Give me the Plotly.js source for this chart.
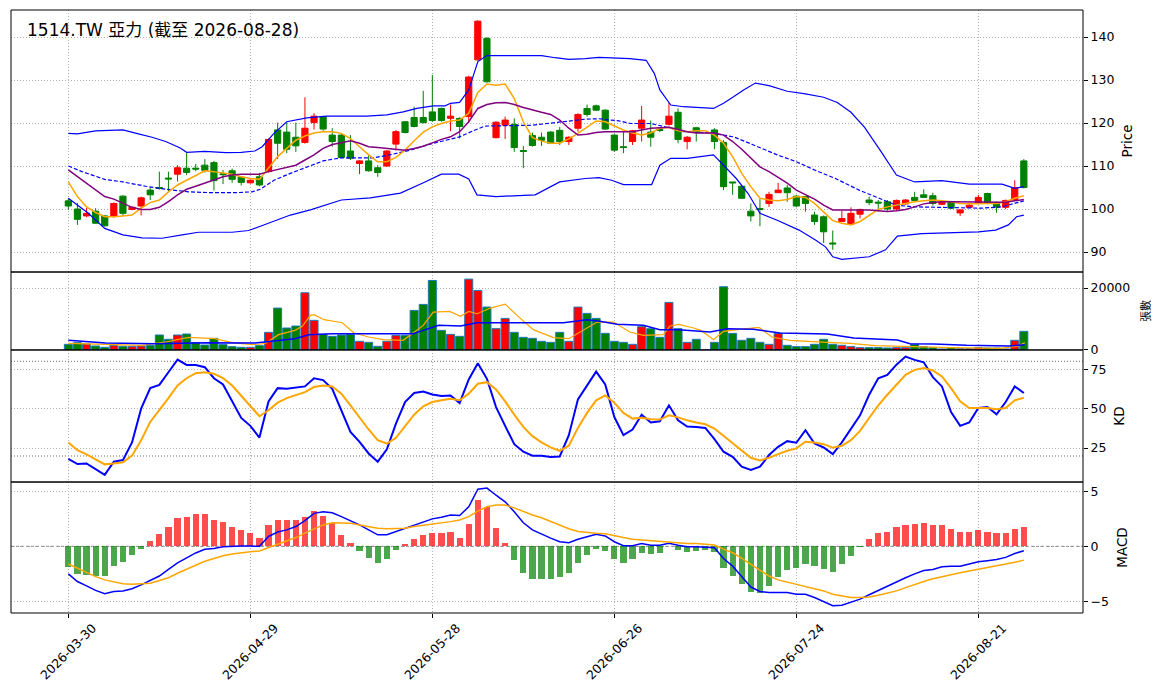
<!DOCTYPE html>
<html>
<head>
<meta charset="utf-8">
<script src="https://cdn.plot.ly/plotly-3.0.1.min.js"></script>
<style>
  html, body { margin: 0; padding: 0; background: #fff; }
  #chart { width: 1164px; height: 698px; }
</style>
</head>
<body>
<div id="chart"></div>
<script>
/***** data (index = trading day) *****/
var tickIdx = [0, 20, 40, 60, 80, 100];
var tickDates = ['2026-03-30', '2026-04-29', '2026-05-28', '2026-06-26', '2026-07-24', '2026-08-21'];

var open = [101.9,100.0,98.4,99.5,98.4,98.4,103.0,99.9,100.7,104.4,
  105.0,107.2,108.1,109.5,109.5,110.2,110.8,108.2,108.9,107.4,
  106.1,107.5,108.7,118.4,117.9,116.7,115.5,120.1,121.5,117.2,
  117.2,113.5,110.6,111.2,109.6,110.0,115.1,120.3,121.3,121.3,
  122.6,123.4,121.1,121.1,121.5,134.7,139.7,116.6,119.5,119.7,
  113.6,117.1,116.7,117.9,118.3,115.7,118.8,123.4,124.0,123.0,
  117.2,114.5,115.7,118.8,117.9,118.5,119.7,122.5,115.7,118.9,
  null,118.4,115.5,106.3,105.3,99.5,100.1,101.3,103.8,104.9,
  103.0,102.9,98.6,98.2,92.1,97.1,96.5,98.8,102.1,101.6,
  101.7,100.0,101.2,102.7,103.3,103.1,101.1,101.7,99.1,100.4,
  101.3,103.6,101.5,100.4,102.1,111.2];
var high = [102.5,101.4,100.3,100.2,98.6,101.5,103.2,100.6,102.9,105.0,
  108.7,108.7,110.2,113.0,110.5,111.6,111.2,109.1,109.4,107.6,
  106.9,108.4,116.4,120.1,120.1,120.1,126.0,122.3,121.7,118.8,
  117.4,117.2,111.4,112.6,110.2,113.7,118.4,120.5,123.8,127.5,
  131.2,123.6,124.3,121.3,131.0,143.9,140.0,120.4,121.5,121.1,
  114.7,117.8,117.8,118.1,119.1,116.9,122.3,124.3,124.3,123.2,
  117.4,118.1,118.4,124.0,120.6,118.8,124.8,123.4,117.0,119.1,
  null,118.8,116.0,106.3,105.5,101.3,102.3,104.0,106.1,105.6,
  103.3,103.0,99.4,98.5,95.0,99.6,100.4,100.1,102.9,102.1,
  102.1,102.2,102.3,104.0,104.6,103.8,101.9,101.9,100.0,101.1,
  103.3,103.8,101.7,102.2,106.7,111.6];
var low = [99.8,96.3,98.1,96.5,95.9,98.0,98.4,99.7,98.5,102.1,
  104.5,104.2,106.4,107.9,108.8,108.5,104.3,105.8,106.1,105.5,
  105.9,105.3,108.5,111.6,113.0,113.3,115.2,118.5,118.2,114.5,
  111.8,111.4,108.1,108.7,107.5,109.8,113.6,117.6,119.0,119.9,
  120.3,120.3,118.1,116.4,120.0,134.5,129.4,116.4,116.3,113.3,
  109.5,114.5,114.7,115.1,114.9,114.9,118.0,121.5,122.8,118.4,
  113.3,113.0,114.9,115.7,114.5,117.9,119.4,115.3,113.9,115.7,
  null,113.9,104.4,103.3,102.3,97.1,96.0,100.5,103.8,101.7,
  100.4,99.4,96.3,92.1,90.5,97.1,96.3,97.8,100.9,99.4,
  99.6,99.8,101.0,101.7,102.7,100.8,100.9,100.0,98.4,100.2,
  101.1,101.1,99.1,100.0,101.9,104.8];
var close = [100.7,97.6,99.0,96.7,96.1,101.3,99.0,100.4,102.6,103.3,
  104.8,107.0,109.6,108.5,109.3,109.0,106.6,108.0,106.9,106.2,
  106.7,105.6,116.2,115.3,113.9,114.7,118.8,121.6,118.6,115.7,
  112.0,111.8,111.2,108.9,108.5,113.5,118.0,117.8,119.2,120.1,
  120.6,120.6,121.6,119.2,130.7,143.7,129.6,120.2,120.7,114.3,
  113.4,114.8,116.0,115.3,115.7,116.7,122.0,122.0,123.0,118.6,
  113.7,114.3,118.2,120.7,116.7,118.3,121.6,116.2,116.7,117.8,
  null,115.7,105.2,106.1,102.5,98.4,99.9,103.4,104.4,103.8,
  100.7,101.3,97.1,94.7,91.9,97.8,99.0,99.9,101.5,101.4,
  100.0,102.0,102.1,102.0,102.7,101.3,101.7,100.2,99.8,100.9,
  102.7,101.3,100.4,102.0,105.0,105.0];

var ma5 = [106.3,102.9,100.5,99.2,98.2,98.2,98.4,98.6,100.2,101.5,
  102.1,104.0,105.6,106.7,107.9,108.9,108.7,108.4,108.1,107.5,
  107.1,106.9,109.5,112.2,114.1,116.0,117.0,117.7,118.0,118.0,
  117.6,116.4,114.5,112.6,111.0,111.0,112.0,113.7,115.9,117.9,
  119.1,119.9,120.5,120.7,122.3,127.1,129.1,128.8,129.1,125.7,
  120.3,116.6,115.8,115.3,115.3,116.3,117.6,119.1,120.5,120.3,
  119.4,118.4,117.7,117.2,117.7,118.8,119.0,118.2,118.0,118.2,
  118.2,117.2,115.3,112.2,108.3,105.2,102.5,102.1,101.9,102.2,
  102.9,102.7,101.3,99.4,97.3,96.7,96.3,97.1,98.6,99.9,
  100.5,100.9,101.3,101.7,101.9,102.1,101.9,101.7,101.3,101.2,
  101.2,101.3,101.3,101.7,102.5,103.1];
var ma10 = [109.1,107.5,106.0,104.4,102.9,102.3,101.3,100.4,99.9,99.9,
  100.4,101.7,103.3,104.6,105.3,106.0,106.7,107.5,107.9,108.1,
  108.1,108.1,108.7,109.2,109.7,110.2,111.4,112.6,114.1,115.0,
  115.4,115.9,115.3,114.5,114.3,114.1,113.9,113.7,114.1,114.6,
  115.4,116.2,116.8,118.0,120.3,123.4,124.3,124.7,124.8,124.3,
  123.6,123.0,122.5,122.0,120.7,118.8,117.2,117.4,117.8,118.0,
  118.0,118.0,118.0,118.4,118.8,118.9,119.0,118.5,118.0,117.7,
  117.7,117.7,117.2,115.7,113.9,111.8,109.8,108.7,107.4,106.0,
  104.4,103.3,102.3,100.9,99.8,99.8,99.8,99.8,99.8,99.6,
  99.4,99.6,99.9,100.5,101.2,101.5,101.7,101.7,101.7,101.7,
  101.7,101.7,101.7,101.6,101.9,102.2];

var bbUpX = [0,1,3,6,7.7,9.2,10.7,12.3,13,15,17.3,19,20.5,21.3,22.6,24,26.2,28.4,32.8,35,
  36.8,38.3,40.1,41.4,42,43,44,45,46,50,52,53.5,55,56.8,58.3,61.7,63.5,64.4,65,66.2,
  67.6,70.9,72,73.1,74.2,75.5,77,79,81,83,84.5,86,87.5,89.2,91,93,96,99,102.6,104,105];
var bbUp = [117.6,117.5,118.2,118.4,117.5,116.7,115.7,114.2,113.2,113.4,113.1,113.2,113.5,114.5,117.6,120.3,121.2,121.6,121.6,121.9,
  122.6,123.4,124.0,124.0,124.6,124.8,127.7,134.3,135.7,135.8,135.7,135.2,134.8,135.0,135.3,135.0,134.6,131.5,127.7,124.2,
  123.8,123.4,124.6,126.1,127.7,129.3,128.7,127.4,126.8,126.0,124.8,122.5,119.0,113.7,107.9,106.3,106.6,105.8,105.8,104.8,105.2];
var bbMidX = [0,1.5,4,6,8.5,10.7,13.2,15.8,18.3,20.2,21.1,22.6,24.4,26.2,28,29.9,33.5,35.3,37.6,39.4,
  41.4,43,44.7,45.8,48.7,51,53.9,56.8,58.3,60.5,61.8,64,66.2,67.6,70.6,73.1,75.3,77.9,80,82.2,
  84.3,86.9,89.1,91,93,96.7,100.4,102.6,104,105];
var bbMid = [110.0,108.7,106.9,106.3,105.3,104.6,104.0,103.8,103.8,104.0,104.6,106.7,108.3,109.8,111.2,111.9,111.9,112.6,113.7,114.9,
  116.0,116.8,118.4,119.3,119.4,119.5,120.2,120.9,121.0,120.5,119.9,119.9,118.8,118.0,117.7,116.8,114.9,112.6,111.0,108.9,
  107.1,104.4,102.5,100.9,100.5,100.4,100.2,100.5,101.3,101.9];
var bbLowX = [0,2.2,4,6,8.1,10.3,12.5,14.3,18,19.8,21.1,24.4,26.6,30,33.2,36.5,39.2,41,42.9,44,
  44.9,47,51.3,54,56.8,58.3,59.7,61,64.1,65,66.2,68,70.9,72.2,73.4,74.7,76,77.9,80.3,82.1,
  83.2,84,85,88,89.8,91.1,93.8,100,101.9,103.3,104.2,105];
var bbLow = [102.5,99.0,95.5,94.0,93.3,93.2,94.0,94.6,94.6,95.0,96.0,98.6,99.8,102.1,102.6,103.7,106.3,108.1,108.1,107.0,
  103.3,102.9,103.3,106.3,107.1,107.3,106.7,105.7,105.7,110.2,111.8,111.8,112.6,109.8,107.1,103.6,99.0,97.4,95.1,92.8,
  91.2,88.9,88.3,88.9,90.5,93.7,94.3,94.7,95.1,96.3,98.2,98.6];

var volume = [1830,2365,1935,1290,860,1505,1180,1075,1290,1505,
  4840,3440,4840,5160,2365,1610,3760,1720,1075,860,
  860,1400,5700,13545,7095,7740,18490,9570,5050,4410,
  4840,5050,2795,2470,1180,2795,4730,4730,12790,14730,
  22470,6340,5050,4410,22900,19240,13870,6880,10210,5700,
  4085,3760,2795,2470,5700,2795,13870,11825,10210,5375,
  2795,2470,1830,7525,6880,4085,15370,6880,2470,3440,
  0,2470,20425,5375,3120,3760,2470,1830,5375,1505,
  1075,1075,1830,3440,1830,1505,1075,750,750,750,
  645,750,750,1830,1075,750,320,750,430,430,
  750,645,645,320,3120,6020];
var volMa5X = [0,4.1,8,10.7,13.2,16.1,18,20.2,21.6,23.1,24.9,25.7,26.6,27,28.1,30.1,31.4,33,34.6,36.8,
  39,40.1,41.9,43.1,44,44.9,46.4,48,49.3,51.1,52.2,53.3,55,56.6,58.1,59.9,61.7,63.2,65.4,66.1,
  67.1,68.7,69.5,70.9,72,73.8,75.9,77.3,79.3,83.4,85.9,88.7,92.2,96.9,102.4,104.4,105.1];
var volMa5 = [2150,1720,1505,2580,4085,3655,2365,1720,2040,4945,6340,7630,11180,11400,9780,8815,5480,4190,3330,3120,
  7955,12255,12470,10860,12470,11720,13545,14835,11180,6560,5270,3980,3655,6340,9030,9030,5800,4730,4945,7740,
  8280,7095,6340,3330,6020,6665,7310,4190,3120,2470,2150,1400,1075,750,540,1290,2365];
var volMa20X = [0,4.1,9.6,15.1,20.5,22.4,24.9,26.4,29,34.8,37.9,39,40.7,43.1,44.9,49,54.4,57,58.4,60.3,
  63.2,65,67.1,70.5,72.4,75.3,78.2,83.4,86.3,91.1,92.5,95.1,98.7,103.4,105.1];
var volMa20 = [3120,2260,2040,2365,2260,2795,3655,4945,5270,5270,5270,6340,7955,7740,8815,8815,8815,9780,9250,8280,
  7955,6560,6560,5800,6880,6665,5480,5160,3870,3225,2040,1935,1505,1290,1720];

var kLine = [18.1,14.9,15.3,11.8,8.0,16.4,17.4,28.6,50,63,
  65.1,73.1,81.1,77.7,77.7,76.3,69.3,65.3,54.6,44.1,
  39.1,31.7,54.6,63,62.6,63.2,64.1,69.3,68.1,62.6,
  49,35.3,29,21.6,16.4,24.2,40.5,54.2,59.9,60.9,
  59,58,58.4,53.6,68.5,78.8,68.9,51,39.1,27.5,
  22.7,20.2,20.2,19.3,19.7,33.2,55.9,64.7,73.5,65.3,
  44.7,33.2,36.8,46.2,41.2,42,52.1,42.6,38.7,38.4,
  37.8,30.7,22.7,19.5,13.2,11.1,13.2,20.6,25.8,29.4,
  28.4,36.3,27.9,25.4,21.2,28.6,37.4,45.8,58.8,69.3,
  71.4,77.9,83,80.9,79.4,70,64.1,47.9,39.1,41.2,
  50.4,51,46.4,54.2,64.1,59.9];
var dLine = [28.6,23.7,21,17.9,14.7,15.3,16,20.2,30,41.6,
  49,56.7,64.7,69.3,72.5,73.1,72.1,69.3,64.7,58.4,
  51.7,45.2,49,53.8,56.7,58.8,60.5,63.7,64.7,64.1,
  59.5,52.1,44.1,36.8,30,27.9,31.5,39.1,46.2,51.5,
  54.2,55.3,56.3,55.3,59.5,65.8,66.8,62.2,54.6,46.2,
  38.4,32.6,28.6,25.5,23.3,26.5,37.8,47.3,55.3,58.4,
  53.8,47.3,43.7,44.3,43.3,43.1,45.8,44.5,42.6,41.2,
  40.1,37.4,32.8,27.9,23.1,18.9,17.2,18.9,21.2,23.3,
  24.8,29,28.6,27.5,25.2,26.5,30,35.9,44.1,52.1,
  58.8,65.3,71.4,74.6,75.8,74.2,70.4,63,54.6,50.4,
  50.4,50.4,49.6,50.4,55.3,56.9];

var macdHist = [-1.85,-2.5,-2.6,-2.7,-2.7,-1.8,-1.4,-0.8,-0.2,0.45,
  1.1,1.8,2.6,2.7,2.9,2.9,2.4,2.2,1.8,1.45,
  1.2,0.8,1.9,2.4,2.4,2.4,2.7,3.2,2.8,2.1,
  1.0,0.3,-0.4,-1.05,-1.5,-1.15,-0.35,0.2,0.65,1.0,
  1.2,1.2,1.3,0.8,2.0,4.2,3.55,1.65,0.35,-1.25,
  -2.4,-3.0,-3.0,-3.0,-2.8,-2.4,-1.5,-0.8,-0.25,-0.4,
  -1.15,-1.5,-1.15,-0.6,-0.7,-0.6,0.05,-0.33,-0.5,-0.4,
  -0.33,-0.5,-2.0,-2.7,-3.4,-4.15,-4.25,-3.6,-2.8,-2.15,
  -2.0,-1.6,-1.8,-2.05,-2.35,-1.6,-0.9,-0.05,0.65,1.2,
  1.35,1.75,1.9,2.0,2.1,1.9,1.9,1.55,1.3,1.3,
  1.45,1.35,1.2,1.2,1.55,1.75];
var dif = [-2.5,-3.2,-3.6,-4.0,-4.3,-4.1,-4.05,-3.85,-3.5,-3.1,
  -2.7,-2.1,-1.5,-1.05,-0.6,-0.27,-0.2,-0.03,0.03,0.03,
  0.03,0,0.9,1.3,1.5,1.8,2.35,3.0,3.15,3.05,
  2.7,2.35,1.95,1.5,1.05,1.05,1.35,1.65,1.95,2.25,
  2.5,2.65,2.85,2.8,3.6,5.2,5.3,4.65,4.05,3.15,
  2.15,1.5,1.1,0.75,0.42,0.33,0.65,0.9,1.1,0.95,
  0.42,0.06,0.06,0.25,0.1,0.1,0.27,0.1,-0.03,-0.03,
  -0.06,-0.12,-1.1,-1.8,-2.75,-3.7,-4.1,-4.2,-4.2,-4.2,
  -4.35,-4.35,-4.65,-5.0,-5.4,-5.35,-5.1,-4.8,-4.4,-4.0,
  -3.65,-3.25,-2.85,-2.5,-2.2,-2.1,-1.85,-1.8,-1.8,-1.6,
  -1.4,-1.3,-1.2,-1.0,-0.65,-0.4];
var dea = [-1.6,-2.0,-2.4,-2.75,-3.05,-3.25,-3.4,-3.45,-3.4,-3.35,
  -3.1,-2.85,-2.45,-2.1,-1.7,-1.35,-1.1,-0.85,-0.7,-0.58,
  -0.5,-0.42,-0.12,0.18,0.5,0.8,1.2,1.6,1.95,2.15,
  2.15,2.1,1.95,1.8,1.65,1.6,1.6,1.65,1.8,1.9,
  2.0,2.15,2.25,2.4,2.7,3.2,3.6,3.75,3.75,3.5,
  3.15,2.85,2.6,2.25,1.9,1.6,1.35,1.25,1.2,1.15,
  0.95,0.8,0.65,0.58,0.5,0.45,0.4,0.33,0.27,0.25,
  0.2,0.12,-0.25,-0.58,-1.1,-1.65,-2.2,-2.7,-3.05,-3.25,
  -3.45,-3.6,-3.8,-4.05,-4.35,-4.5,-4.65,-4.65,-4.6,-4.45,
  -4.25,-4.05,-3.75,-3.45,-3.2,-2.95,-2.75,-2.6,-2.4,-2.25,
  -2.1,-1.95,-1.8,-1.65,-1.45,-1.25];

/***** plot *****/
var idx = close.map(function (v, i) { return i; });
var upDown = close.map(function (c, i) { return c > open[i] ? '#ff0000' : '#008000'; });
var histColor = macdHist.map(function (v) { return v >= 0 ? 'rgba(255,0,0,0.7)' : 'rgba(0,128,0,0.7)'; });

function line(x, y, axis, color, width, dash) {
  return {
    x: x, y: y, yaxis: axis, type: 'scatter', mode: 'lines',
    line: { color: color, width: width, dash: dash || 'solid' },
    hoverinfo: 'skip'
  };
}

var candles = {
  x: idx, open: open, high: high, low: low, close: close,
  type: 'candlestick', yaxis: 'y',
  increasing: { line: { color: '#ff0000', width: 1 }, fillcolor: '#ff0000' },
  decreasing: { line: { color: '#008000', width: 1 }, fillcolor: '#008000' },
  whiskerwidth: 0
};

var vol = {
  x: idx, y: volume, type: 'bar', yaxis: 'y2', width: 0.88,
  marker: { color: upDown, line: { color: '#1f77b4', width: 1 } }
};

var hist = {
  x: idx, y: macdHist, type: 'bar', yaxis: 'y4', width: 0.68,
  marker: { color: histColor, line: { width: 0 } }
};

var data = [
  line(bbUpX, bbUp, 'y', '#0000ff', 1.2),
  line(bbLowX, bbLow, 'y', '#0000ff', 1.2),
  line(bbMidX, bbMid, 'y', '#0000ff', 1.2, '4px,2px'),
  candles,
  line(idx, ma5, 'y', '#ffa500', 1.5),
  line(idx, ma10, 'y', '#800080', 1.5),
  vol,
  line(volMa5X, volMa5, 'y2', '#ffa500', 1.2),
  line(volMa20X, volMa20, 'y2', '#0000ff', 1.5),
  line(idx, kLine, 'y3', '#0000ff', 2),
  line(idx, dLine, 'y3', '#ffa500', 2),
  hist,
  line(idx, dif, 'y4', '#0000ff', 1.5),
  line(idx, dea, 'y4', '#ffa500', 1.5)
];

var fam = '"DejaVu Sans", "Noto Sans CJK TC", sans-serif';
var font = { family: fam, size: 12.5, color: '#000' };
var titleFont = { family: fam, size: 13.5, color: '#000' };
var grid = { showgrid: true, gridcolor: '#b0b0b0', griddash: '1px,2px', gridwidth: 1 };

function yax(domain, range, extra) {
  var a = {
    domain: domain, range: range, side: 'right', anchor: 'x',
    ticks: 'outside', ticklen: 4, tickcolor: '#000', zeroline: false,
    showline: false, fixedrange: true
  };
  Object.assign(a, grid, extra);
  return a;
}

function box(y0, y1) {
  return { type: 'rect', xref: 'paper', yref: 'paper', x0: 0, x1: 1, y0: y0, y1: y1,
           line: { color: '#000', width: 1 }, fillcolor: 'rgba(0,0,0,0)' };
}
function hline(axis, v, dash, color) {
  return { type: 'line', xref: 'paper', yref: axis, x0: 0, x1: 1, y0: v, y1: v,
           line: { color: color, width: 1, dash: dash }, layer: 'below' };
}

// date labels centred under their ticks, rotated 45 degrees
var dateLabels = tickIdx.map(function (v, i) {
  return {
    text: tickDates[i], xref: 'x', yref: 'paper', x: v, y: -0.008,
    xanchor: 'center', yanchor: 'top', textangle: -45, showarrow: false,
    font: { family: fam, size: 12.5, color: '#000' }
  };
});

var layout = {
  width: 1164, height: 698,
  margin: { l: 11, r: 81, t: 10, b: 85 },
  paper_bgcolor: '#fff', plot_bgcolor: '#fff',
  showlegend: false, hovermode: false, bargap: 0,
  boxgap: 0.2, boxgroupgap: 0.15,
  font: font,
  xaxis: Object.assign({
    domain: [0, 1], anchor: 'y4', range: [-6.3, 111.5],
    tickvals: tickIdx, showticklabels: false,
    ticks: 'outside', ticklen: 4, tickcolor: '#000',
    zeroline: false, rangeslider: { visible: false }, fixedrange: true
  }, grid),
  yaxis: yax([0.5655, 1], [85.35, 146.3], { dtick: 10, tick0: 0,
    title: { text: 'Price', standoff: 9, font: titleFont } }),
  yaxis2: yax([0.4362, 0.5655], [0, 25200], { tickvals: [0, 20000], ticktext: ['0', '20000'],
    title: { text: '張數', standoff: 12, font: { family: fam, size: 11, color: '#000' } } }),
  yaxis3: yax([0.2172, 0.4362], [3.5, 87.2], { tickvals: [25, 50, 75],
    title: { text: 'KD', standoff: 9, font: titleFont } }),
  yaxis4: yax([0, 0.2172], [-6.06, 5.85], { tickvals: [-5, 0, 5],
    title: { text: 'MACD', standoff: 9, font: titleFont } }),
  shapes: [
    hline('y3', 20, '1px,2px', '#707070'),
    hline('y3', 80, '1px,2px', '#707070'),
    hline('y4', 0, '3px,2px', '#808080'),
    box(0.5655, 1), box(0.4362, 0.5655), box(0.2172, 0.4362), box(0, 0.2172)
  ],
  annotations: [{
    text: '1514.TW 亞力 (截至 2026-08-28)', xref: 'paper', yref: 'paper',
    x: 0.013, y: 0.967, xanchor: 'left', yanchor: 'middle', showarrow: false,
    font: { family: fam, size: 17, color: '#000' }
  }].concat(dateLabels)
};

Plotly.newPlot('chart', data, layout, { displayModeBar: false, staticPlot: true });
</script>
</body>
</html>
